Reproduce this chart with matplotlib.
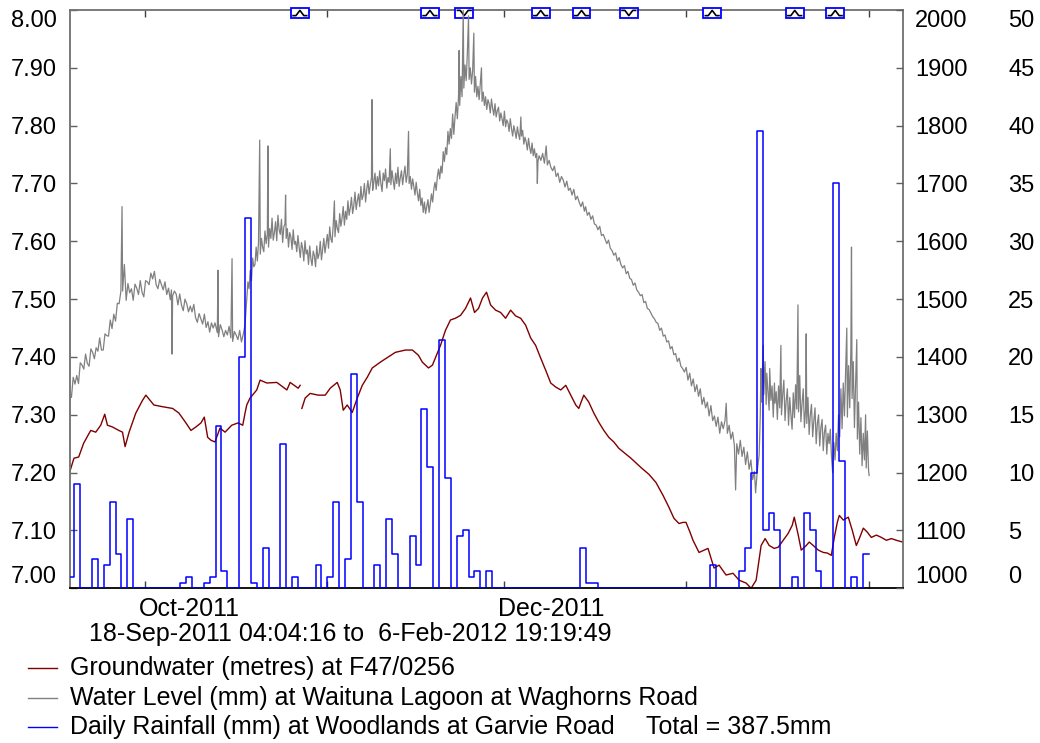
import numpy as np
import matplotlib
matplotlib.use("Agg")
import matplotlib.pyplot as plt
import matplotlib.dates as mdates
from matplotlib.patches import Rectangle
from matplotlib.lines import Line2D
from matplotlib.transforms import blended_transform_factory
from datetime import datetime

plt.rcParams['font.family'] = ['Liberation Sans', 'DejaVu Sans']

# ---------------------------------------------------------------- data
period_start = datetime(2011, 9, 18, 4, 4, 16)
period_end = datetime(2012, 2, 6, 19, 19, 49)
day0 = datetime(2011, 9, 18)          # sample times are days after this

nan = float('nan')

# groundwater level (m) at F47/0256: (days after day0, level)
gw_samples = [
    (0.20, 7.201), (0.93, 7.225), (1.73, 7.227), (2.58, 7.251), (3.78, 7.273),
    (4.63, 7.270), (5.48, 7.282), (6.16, 7.301), (6.62, 7.282), (7.47, 7.279),
    (8.55, 7.273), (9.18, 7.270), (9.62, 7.245), (10.30, 7.270), (11.44, 7.303),
    (12.58, 7.325), (13.15, 7.334), (14.51, 7.317), (15.99, 7.314), (17.70, 7.311),
    (18.77, 7.303), (19.96, 7.286), (20.81, 7.273), (21.66, 7.279), (22.52, 7.286),
    (23.08, 7.296), (23.66, 7.261), (24.22, 7.256), (24.90, 7.253), (25.75, 7.277),
    (26.61, 7.270), (27.75, 7.282), (28.82, 7.286), (29.62, 7.282), (30.01, 7.303),
    (30.30, 7.317), (30.86, 7.329), (32.00, 7.343), (32.57, 7.360), (33.71, 7.355),
    (35.41, 7.356), (37.12, 7.343), (37.68, 7.356), (39.04, 7.346), (39.38, 7.351),
    (39.50, nan),
    (39.67, 7.311), (40.23, 7.329), (41.08, 7.337), (42.45, 7.334), (43.64, 7.334),
    (44.49, 7.346), (45.68, 7.356), (46.19, 7.343), (46.70, 7.308), (47.38, 7.317),
    (48.23, 7.304), (49.09, 7.329), (49.94, 7.351), (50.79, 7.365), (51.64, 7.381),
    (53.00, 7.391), (54.37, 7.400), (55.56, 7.408), (57.27, 7.412), (58.46, 7.412),
    (59.48, 7.403), (60.16, 7.391), (61.19, 7.381), (61.87, 7.386), (62.55, 7.403),
    (63.23, 7.420), (64.08, 7.446), (64.93, 7.464), (65.78, 7.467), (66.64, 7.472),
    (67.49, 7.484), (68.34, 7.502), (69.02, 7.477), (69.70, 7.484), (70.38, 7.502),
    (71.06, 7.512), (71.75, 7.490), (72.60, 7.481), (73.45, 7.477), (74.30, 7.467),
    (75.15, 7.481), (76.01, 7.471), (76.86, 7.467), (77.71, 7.455), (78.56, 7.433),
    (79.41, 7.420), (80.27, 7.398), (81.12, 7.377), (81.97, 7.355), (82.82, 7.348),
    (83.68, 7.343), (84.53, 7.351), (85.38, 7.334), (86.23, 7.317), (86.74, 7.311),
    (87.59, 7.334), (88.44, 7.322), (89.30, 7.303), (90.15, 7.287), (91.00, 7.273),
    (91.85, 7.261), (92.70, 7.253), (93.56, 7.242), (94.41, 7.235), (95.60, 7.225),
    (97.30, 7.209), (98.67, 7.197), (99.86, 7.183), (101.05, 7.161), (102.07, 7.140),
    (102.92, 7.121), (103.78, 7.112), (104.46, 7.114), (104.97, 7.114), (105.65, 7.097),
    (106.16, 7.083), (107.18, 7.062), (108.03, 7.066), (108.71, 7.069), (109.74, 7.035),
    (110.59, 7.040), (111.78, 7.023), (112.97, 7.026), (113.99, 7.014), (115.19, 7.009),
    (116.04, 7.000), (116.89, 7.014), (117.74, 7.074), (118.42, 7.086), (119.11, 7.074),
    (119.96, 7.069), (120.64, 7.071), (121.49, 7.083), (122.34, 7.095), (123.03, 7.109),
    (123.37, 7.123), (124.05, 7.092), (124.56, 7.066), (125.41, 7.074), (125.92, 7.080),
    (126.60, 7.074), (127.46, 7.066), (128.31, 7.062), (128.99, 7.061), (129.67, 7.057),
    (130.18, 7.088), (130.69, 7.114), (131.03, 7.126), (131.71, 7.118), (132.56, 7.123),
    (133.24, 7.100), (133.92, 7.074), (134.43, 7.086), (135.11, 7.104), (135.79, 7.097),
    (136.47, 7.088), (137.33, 7.092), (138.18, 7.088), (139.03, 7.083), (139.88, 7.086),
    (140.73, 7.083), (141.80, 7.080),
]

# lagoon water level (mm) at Waghorns Road: (days after day0, level)
wl_samples = [
    (0.2, 1343), (0.5, 1330), (0.8, 1365), (1.1, 1353), (1.4, 1368), (1.7, 1354),
    (2.0, 1390), (2.3, 1386), (2.6, 1379), (2.9, 1405), (3.2, 1389), (3.5, 1384),
    (3.8, 1414), (4.1, 1408), (4.4, 1397), (4.7, 1416), (5.0, 1410), (5.3, 1433),
    (5.6, 1412), (5.9, 1412), (6.2, 1440), (6.5, 1437), (6.8, 1436), (7.1, 1464),
    (7.4, 1449), (7.7, 1474), (8.0, 1462), (8.3, 1493), (8.6, 1492), (8.9, 1513),
    (9.1, 1660), (9.2, 1514), (9.5, 1560), (9.8, 1498), (10.1, 1527), (10.4, 1511),
    (10.7, 1518), (11.0, 1498), (11.3, 1526), (11.6, 1519), (11.9, 1508), (12.2, 1532),
    (12.5, 1512), (12.8, 1504), (13.1, 1532),
    (13.4, 1530), (13.7, 1525), (14.0, 1545), (14.3, 1535), (14.6, 1548), (14.9, 1525),
    (15.2, 1518), (15.5, 1534), (15.8, 1525), (16.1, 1516), (16.4, 1530), (16.7, 1508),
    (17.0, 1519), (17.3, 1499), (17.5, 1516), (17.6, 1405), (17.7, 1506), (18.0, 1514),
    (18.3, 1509), (18.6, 1490), (18.9, 1509), (19.2, 1490), (19.5, 1480), (19.8, 1500),
    (20.1, 1492), (20.4, 1478), (20.7, 1488), (21.0, 1478), (21.3, 1491), (21.6, 1468),
    (21.9, 1460), (22.2, 1475), (22.5, 1466), (22.8, 1457), (23.1, 1474), (23.4, 1451),
    (23.7, 1461), (24.0, 1443), (24.3, 1459), (24.6, 1450), (24.9, 1459), (25.3, 1442),
    (25.4, 1550), (25.5, 1435), (25.8, 1456), (26.1, 1447), (26.4, 1435), (26.7, 1446),
    (27.0, 1438), (27.3, 1453), (27.6, 1433), (27.8, 1570), (27.9, 1427), (28.2, 1444),
    (28.5, 1438), (28.8, 1430), (29.1, 1446), (29.4, 1426), (29.7, 1439), (30.0, 1455),
    (30.3, 1500), (30.5, 1530), (30.7, 1518), (30.9, 1550), (31.1, 1532), (31.3, 1571),
    (31.5, 1556), (31.7, 1560), (31.9, 1590), (32.1, 1566), (32.3, 1598), (32.5, 1775),
    (32.6, 1578), (32.8, 1605), (33.0, 1590), (33.2, 1582), (33.4, 1618), (33.6, 1596),
    (33.8, 1612), (33.9, 1765), (34.0, 1590), (34.2, 1622), (34.4, 1605), (34.6, 1640),
    (34.8, 1602), (35.0, 1615), (35.2, 1634), (35.4, 1601), (35.6, 1645), (35.8, 1620),
    (36.0, 1612), (36.2, 1638), (36.4, 1598), (36.6, 1625), (36.8, 1630), (36.9, 1680),
    (37.0, 1605), (37.2, 1622), (37.4, 1590), (37.6, 1615), (37.8, 1608), (38.0, 1586),
    (38.2, 1620), (38.4, 1595), (38.6, 1600), (38.8, 1582), (39.0, 1610), (39.2, 1590),
    (39.4, 1572), (39.6, 1598), (39.8, 1588), (40.0, 1566), (40.2, 1601), (40.4, 1578),
    (40.6, 1585), (40.8, 1560), (41.0, 1592), (41.2, 1570), (41.4, 1558), (41.6, 1583),
    (41.8, 1575), (42.0, 1556), (42.2, 1592), (42.4, 1570), (42.6, 1578), (42.8, 1600),
    (43.0, 1568), (43.2, 1586), (43.4, 1605), (43.6, 1580), (43.8, 1596), (44.0, 1612),
    (44.2, 1588), (44.4, 1625), (44.6, 1604), (44.8, 1598), (45.0, 1628), (45.2, 1670),
    (45.3, 1608), (45.5, 1636), (45.7, 1622), (45.9, 1615), (46.1, 1648), (46.3, 1626),
    (46.5, 1640), (46.7, 1660), (46.9, 1628),
    (47.1, 1652), (47.3, 1638), (47.5, 1670), (47.7, 1645), (47.9, 1658), (48.1, 1676),
    (48.3, 1648), (48.5, 1662), (48.7, 1685), (48.9, 1655), (49.1, 1670), (49.3, 1682),
    (49.5, 1660), (49.7, 1695), (49.9, 1672), (50.1, 1680), (50.3, 1700), (50.5, 1668),
    (50.7, 1690), (50.9, 1705), (51.1, 1682), (51.3, 1698), (51.5, 1710), (51.6, 1845),
    (51.7, 1688), (51.9, 1702), (52.1, 1718), (52.3, 1690), (52.5, 1712), (52.7, 1696),
    (52.9, 1722), (53.1, 1700), (53.3, 1686), (53.5, 1718), (53.7, 1705), (53.9, 1725),
    (54.1, 1692), (54.3, 1710), (54.5, 1702), (54.7, 1760), (54.8, 1698), (55.0, 1722),
    (55.2, 1705), (55.4, 1690), (55.6, 1718), (55.8, 1700), (56.0, 1728), (56.2, 1695),
    (56.4, 1710), (56.6, 1722), (56.8, 1698), (57.0, 1715), (57.2, 1730), (57.4, 1702),
    (57.6, 1716), (57.8, 1790), (57.9, 1700), (58.1, 1712), (58.3, 1690), (58.5, 1708),
    (58.7, 1695), (58.9, 1680), (59.1, 1702), (59.3, 1684), (59.5, 1670), (59.7, 1690),
    (59.9, 1662), (60.1, 1675), (60.3, 1650), (60.5, 1668), (60.7, 1648), (60.9, 1660),
    (61.1, 1672), (61.3, 1650), (61.5, 1665), (61.7, 1682), (61.9, 1668), (62.1, 1690),
    (62.3, 1702), (62.5, 1688), (62.7, 1712), (62.9, 1725), (63.1, 1708),
    (63.3, 1730), (63.5, 1718), (63.7, 1755), (63.9, 1738), (64.1, 1762), (64.3, 1750),
    (64.5, 1790), (64.7, 1768), (64.9, 1795), (65.1, 1778), (65.3, 1820), (65.5, 1785),
    (65.7, 1815), (65.9, 1840), (66.1, 1812), (66.3, 1850), (66.4, 1930), (66.5, 1835),
    (66.7, 1885), (66.9, 1850), (67.1, 2000), (67.2, 1865), (67.4, 1905), (67.6, 1878),
    (67.8, 1925), (68.0, 1990), (68.1, 1880), (68.3, 1900), (68.5, 1872), (68.7, 1895),
    (68.9, 1960), (69.0, 1858), (69.2, 1885), (69.4, 1850), (69.6, 1868), (69.8, 1845),
    (70.0, 1872), (70.2, 1900), (70.3, 1842), (70.5, 1858), (70.7, 1835), (70.9, 1850),
    (71.1, 1828), (71.3, 1845), (71.5, 1838), (71.7, 1822), (71.9, 1846), (72.1, 1830),
    (72.3, 1818), (72.5, 1838), (72.7, 1815), (72.9, 1826), (73.1, 1832), (73.3, 1808),
    (73.5, 1822), (73.7, 1812), (73.9, 1800), (74.1, 1825), (74.3, 1798), (74.5, 1810),
    (74.7, 1805), (74.9, 1790), (75.1, 1812), (75.3, 1795), (75.5, 1782), (75.7, 1800),
    (75.9, 1790), (76.1, 1778), (76.3, 1798), (76.5, 1785), (76.7, 1776), (76.9, 1815),
    (77.0, 1782), (77.2, 1792), (77.4, 1768), (77.6, 1780), (77.8, 1772), (78.0, 1758),
    (78.2, 1778), (78.4, 1762), (78.6, 1752), (78.8, 1770), (79.0, 1748), (79.2, 1760),
    (79.4, 1745), (79.6, 1752), (79.7, 1700), (79.8, 1738),
    (80.0, 1748), (80.3, 1740), (80.6, 1752), (80.9, 1735), (81.2, 1765), (81.4, 1732),
    (81.7, 1740), (82.0, 1728), (82.3, 1722), (82.6, 1730), (82.9, 1712), (83.2, 1718),
    (83.5, 1702), (83.8, 1712), (84.1, 1706), (84.4, 1694), (84.7, 1704), (85.0, 1688),
    (85.3, 1692), (85.6, 1680), (85.9, 1690), (86.2, 1672), (86.5, 1678), (86.8, 1668),
    (87.1, 1660), (87.4, 1668), (87.7, 1652), (87.9, 1660), (88.2, 1645), (88.5, 1650),
    (88.8, 1638), (89.1, 1644), (89.4, 1630), (89.7, 1628), (90.0, 1620), (90.3, 1626),
    (90.6, 1610), (90.9, 1612), (91.2, 1604), (91.5, 1596), (91.8, 1602), (92.1, 1588),
    (92.4, 1584), (92.7, 1576), (93.0, 1580), (93.3, 1566), (93.6, 1572), (93.9, 1560),
    (94.2, 1554), (94.5, 1558), (94.8, 1544), (95.1, 1548), (95.4, 1536), (95.7, 1534),
    (96.0, 1524), (96.3, 1528), (96.6, 1516), (96.9, 1512), (97.2, 1506), (97.5, 1508),
    (97.8, 1494), (98.1, 1496), (98.4, 1484), (98.7, 1482), (99.0, 1476), (99.3, 1470),
    (99.6, 1466), (99.9, 1460), (100.2, 1458), (100.5, 1446), (100.8, 1450), (101.1, 1436),
    (101.4, 1438), (101.7, 1426), (102.0, 1428), (102.3, 1414), (102.6, 1418), (102.9, 1404),
    (103.2, 1406), (103.5, 1392), (103.8, 1398), (104.1, 1384), (104.4, 1380), (104.7, 1374),
    (105.0, 1382), (105.3, 1360), (105.6, 1372), (105.9, 1350), (106.2, 1362), (106.5, 1340),
    (106.8, 1352), (107.1, 1332), (107.4, 1345), (107.7, 1318), (108.0, 1330), (108.3, 1312),
    (108.6, 1322), (108.9, 1298), (109.2, 1316), (109.5, 1290), (109.8, 1298), (110.1, 1280),
    (110.4, 1296), (110.7, 1268), (111.0, 1288), (111.3, 1276), (111.6, 1290), (111.8, 1320),
    (112.0, 1268), (112.3, 1282), (112.6, 1258), (112.9, 1270), (113.2, 1246), (113.4, 1170),
    (113.6, 1250), (113.9, 1232), (114.2, 1256), (114.5, 1228), (114.8, 1244), (115.1, 1214),
    (115.4, 1236), (115.7, 1206), (116.0, 1222), (116.3, 1188), (116.6, 1202), (116.8, 1165),
    (117.1, 1205), (117.4, 1230),
    (117.6, 1300), (117.7, 1380), (117.8, 1322), (117.9, 1355), (118.1, 1420), (118.2, 1335),
    (118.4, 1392), (118.6, 1318), (118.7, 1372), (118.9, 1340), (119.1, 1308), (119.2, 1380),
    (119.4, 1325), (119.6, 1350), (119.8, 1296), (120.0, 1355), (120.1, 1320), (120.3, 1340),
    (120.5, 1292), (120.7, 1350), (120.9, 1312), (121.1, 1420), (121.2, 1300), (121.4, 1335),
    (121.6, 1360), (121.8, 1290), (122.0, 1325), (122.2, 1345), (122.4, 1282), (122.6, 1330),
    (122.8, 1300), (123.0, 1275), (123.2, 1338), (123.4, 1295), (123.6, 1352), (123.8, 1310),
    (124.0, 1490), (124.1, 1305), (124.3, 1368), (124.5, 1288), (124.7, 1320), (124.9, 1345),
    (125.1, 1278), (125.3, 1310), (125.4, 1440), (125.5, 1285), (125.7, 1330), (125.9, 1266),
    (126.1, 1300), (126.3, 1318), (126.5, 1262), (126.7, 1290), (126.9, 1312), (127.1, 1250),
    (127.3, 1285), (127.5, 1300), (127.7, 1246), (127.9, 1278), (128.1, 1292), (128.3, 1238),
    (128.5, 1270), (128.7, 1282), (128.9, 1232), (129.1, 1268), (129.3, 1250), (129.5, 1275),
    (129.7, 1228), (129.9, 1200), (130.1, 1252), (130.3, 1222), (130.5, 1268), (130.7, 1238),
    (130.9, 1300), (131.1, 1262), (131.3, 1345), (131.5, 1276), (131.7, 1355), (131.9, 1298),
    (132.1, 1372), (132.3, 1450), (132.4, 1296), (132.6, 1385), (132.8, 1312), (133.0, 1418),
    (133.1, 1590), (133.2, 1328), (133.4, 1392), (133.6, 1278), (133.8, 1352), (134.0, 1430),
    (134.1, 1258), (134.3, 1322), (134.5, 1232), (134.7, 1295), (134.9, 1212), (135.1, 1268),
    (135.3, 1222), (135.5, 1300), (135.6, 1208), (135.8, 1272), (136.0, 1204), (136.1, 1195),
]

# daily rainfall (mm) at Woodlands, one value per day from day0
rain_mm = [
    1.0, 9.0, 0, 0, 2.5, 0, 2.0, 7.5, 3.0, 0,
    6.0, 0, 0, 0, 0, 0, 0, 0, 0, 0.5,
    1.0, 0, 0, 0.5, 1.0, 14.0, 1.5, 0, 0, 20.0,
    32.0, 0.5, 0, 3.5, 0, 0, 12.5, 0, 1.0, 0,
    0, 0, 2.0, 0, 1.0, 7.5, 0, 2.5, 18.5, 7.5,
    0, 0, 2.0, 0, 6.0, 3.0, 0, 0, 4.5, 2.0,
    15.5, 10.5, 0, 21.5, 9.5, 0, 4.5, 5.0, 1.0, 1.5,
    0, 1.5, 0, 0, 0, 0, 0, 0, 0, 0,
    0, 0, 0, 0, 0, 0, 0, 3.5, 0.5, 0.5,
    0, 0, 0, 0, 0, 0, 0, 0, 0, 0,
    0, 0, 0, 0, 0, 0, 0, 0, 0, 2.0,
    0, 0, 0, 0, 1.5, 3.5, 10.0, 39.5, 5.0, 6.5,
    5.0, 0, 0, 1.0, 0, 6.5, 5.0, 1.5, 0, 0,
    35.0, 11.0, 0, 1.0, 0, 3.0,
]

# comment markers along the top edge: time and glyph orientation
comment_times = ["2011-10-27 08:00", "2011-11-18 10:30", "2011-11-24 06:30",
                 "2011-12-07 06:30", "2011-12-14 05:00", "2011-12-22 06:00",
                 "2012-01-05 10:00", "2012-01-19 11:00", "2012-01-26 08:00"]
comment_glyph = ["up", "up", "down", "up", "up", "down", "up", "up", "up"]

month_ticks = ["2011-10-01", "2011-11-01", "2011-12-01", "2012-01-01", "2012-02-01"]
month_labels = ["Oct-2011", "", "Dec-2011", "", ""]

gw_ticks = [7.0 + 0.1 * i for i in range(11)]
wl_ticks = list(range(1000, 2001, 100))
rain_ticks = list(range(0, 51, 5))

series_labels = ["Groundwater (metres) at F47/0256",
                 "Water Level (mm) at Waituna Lagoon at Waghorns Road",
                 "Daily Rainfall (mm) at Woodlands at Garvie Road"]

# ---------------------------------------------------------------- figure
RED, GREY, BLUE = "#800000", "#808080", "#0000ff"
FS = 17
FS_TEXT = 18
FS_LEG = 18

fig = plt.figure(figsize=(10.4, 7.43), dpi=100)
ax = fig.add_axes([69.5 / 1040, 1 - 588.3 / 743, (902.7 - 69.5) / 1040, (588.3 - 10) / 743])
ax2 = ax.twinx()
ax3 = ax.twinx()

t0 = mdates.date2num(day0)

gw_t = np.array([t0 + d for d, _ in gw_samples])
gw_v = np.array([v for _, v in gw_samples])
ax.plot(gw_t, gw_v, color=RED, lw=1.0)

wl_t = np.array([t0 + d for d, _ in wl_samples])
wl_v = np.array([v for _, v in wl_samples])
ax2.plot(wl_t, wl_v, color=GREY, lw=0.9)

rain_edges = [t0 + k for k in range(len(rain_mm) + 1)]
ax3.plot(rain_edges, list(rain_mm) + [rain_mm[-1]], color=BLUE, lw=1.1,
         drawstyle="steps-post")

x_lo, x_hi = mdates.date2num(period_start), mdates.date2num(period_end)
for a in (ax, ax2, ax3):
    a.set_xlim(x_lo, x_hi)

ax.set_ylim(7.0, 8.0)
ax2.set_ylim(1000, 2000)
ax3.set_ylim(0, 50)

ax.set_yticks(gw_ticks)
ax.set_yticklabels([f"{v:.2f}" for v in gw_ticks])
ax2.set_yticks(wl_ticks)
ax2.set_yticklabels([str(v) for v in wl_ticks])
ax3.set_yticks(rain_ticks)
ax3.set_yticklabels([str(v) for v in rain_ticks])

mt = [mdates.date2num(datetime.fromisoformat(s)) for s in month_ticks]
ax.set_xticks(mt)
ax.set_xticklabels([""] * len(mt))
ax.tick_params(axis="x", direction="in", top=True, bottom=True, length=5,
               width=1, color="#404040")
ax.tick_params(axis="y", direction="in", left=True, right=False, length=5,
               width=1, color="#606060", labelsize=FS, pad=9)
ax2.tick_params(axis="y", direction="in", right=True, length=5, width=1,
                color="#606060", labelsize=FS, pad=9)
ax3.tick_params(axis="y", direction="in", right=True, length=0,
                labelsize=FS, pad=76)
for a in (ax2, ax3):
    a.tick_params(axis="x", bottom=False, top=False, labelbottom=False)

# keep the end labels inside the frame
yt = ax.yaxis.get_major_ticks()
yt[0].label1.set_verticalalignment("bottom")
yt[-1].label1.set_verticalalignment("top")
for a in (ax2, ax3):
    t = a.yaxis.get_major_ticks()
    t[0].label2.set_verticalalignment("bottom")
    t[-1].label2.set_verticalalignment("top")

for name, sp in ax.spines.items():
    sp.set_color("black" if name == "bottom" else "#707070")
    sp.set_linewidth(1.3)
for a in (ax2, ax3):
    for sp in a.spines.values():
        sp.set_visible(False)

for pos, lbl in zip(mt, month_labels):
    if lbl:
        ax.annotate(lbl, xy=(pos, 0), xycoords=("data", "axes fraction"),
                    xytext=(-4.5, -6.0), textcoords="offset points",
                    ha="left", va="top", fontsize=FS_TEXT)

# comment markers on the top edge
trans = blended_transform_factory(ax.transData, ax.transAxes)
box_w = 3.05
box_h = 9.4 / 578
box_y = 1 - 7.7 / 578
for when, kind in zip(comment_times, comment_glyph):
    xc = mdates.date2num(datetime.fromisoformat(when))
    xl = xc - box_w / 2
    ax.add_patch(Rectangle((xl, box_y), box_w, box_h, transform=trans,
                           facecolor="white", edgecolor=BLUE, lw=1.3,
                           clip_on=False, zorder=5))
    fx = [0.12, 0.28, 0.5, 0.72, 0.88]
    fy = [0.22, 0.22, 0.78, 0.22, 0.22] if kind == "up" else [0.78, 0.78, 0.22, 0.78, 0.78]
    ax.add_line(Line2D([xl + f * box_w for f in fx], [box_y + f * box_h for f in fy],
                       transform=trans, color="black", lw=1.2, clip_on=False, zorder=6))

# period line
def stamp(dt):
    return f"{dt.day:2d}-{dt:%b-%Y %H:%M:%S}"

fig.text(89 / 1040, 1 - 634 / 743, f"{stamp(period_start)} to {stamp(period_end)}",
         fontsize=FS_TEXT, ha="left", va="center")

# legend
total = sum(rain_mm)
legend_rows = [(RED, series_labels[0]),
               (GREY, series_labels[1]),
               (BLUE, series_labels[2])]
for i, (col, txt) in enumerate(legend_rows):
    y = 1 - (668 + 29.5 * i) / 743
    fig.add_artist(Line2D([28 / 1040, 57 / 1040], [y, y], transform=fig.transFigure,
                          color=col, lw=1.0))
    fig.text(70 / 1040, y, txt, fontsize=FS_LEG, ha="left", va="center")
fig.text(646 / 1040, 1 - (668 + 29.5 * 2) / 743, f"Total = {total:.1f}mm",
         fontsize=FS_LEG, ha="left", va="center")

fig.savefig("out.png", dpi=100)
